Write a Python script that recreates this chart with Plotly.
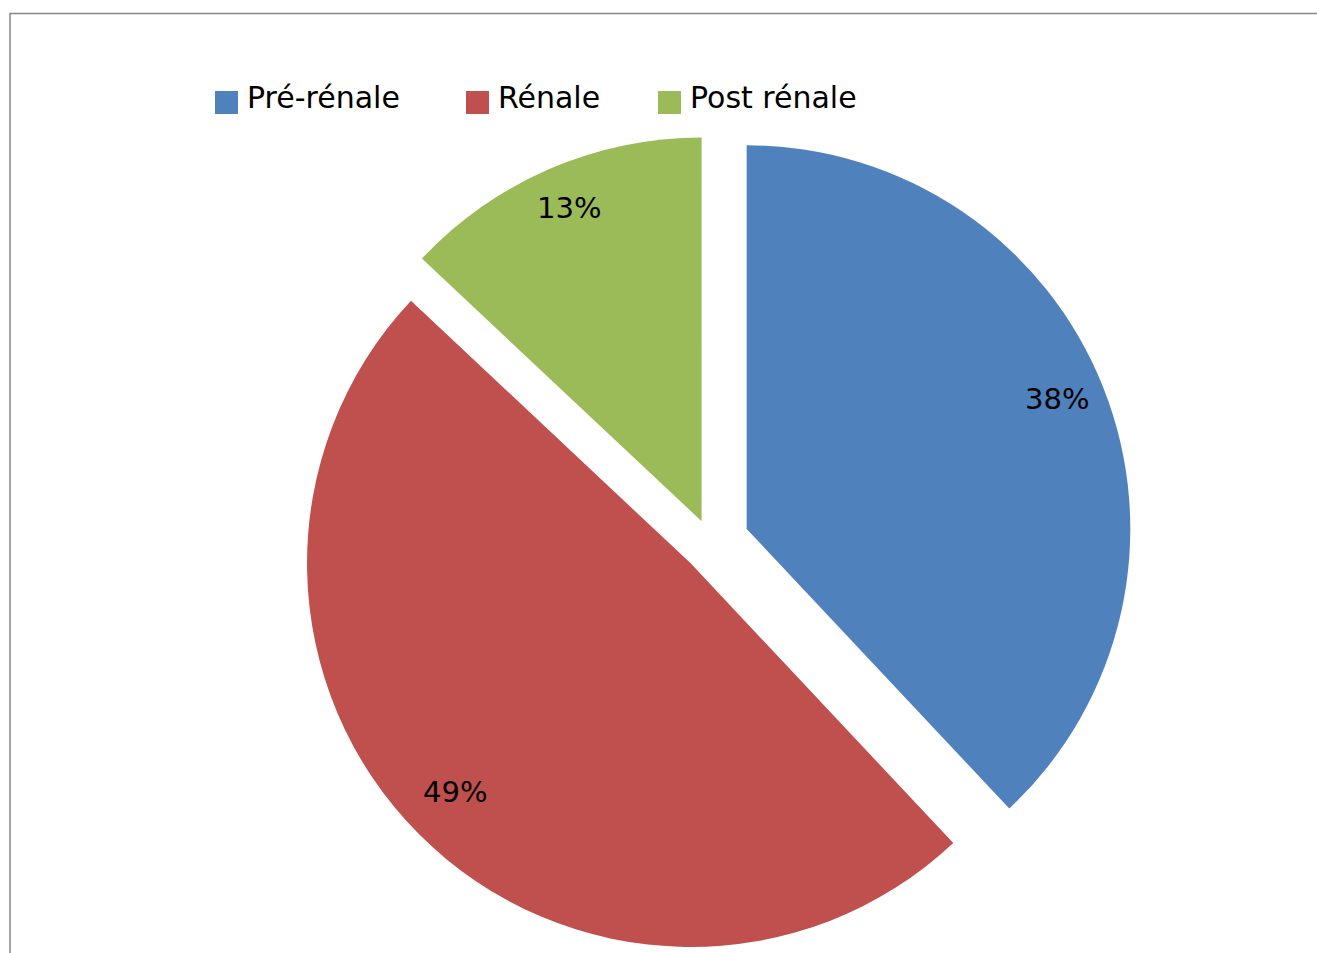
import math
import plotly.graph_objects as go

# Répartition des insuffisances rénales aiguës par mécanisme
categories = ["Pré-rénale", "Rénale", "Post rénale"]
values = [38, 49, 13]
colors = ["#4F81BD", "#C0504D", "#9BBB59"]
pulls = [0.100, 0.075, 0.062]

FONT = "DejaVu Sans"
W, H = 1317, 965
M_L, M_T, M_R, M_B = 289, 121, 184, 0
PW = W - M_L - M_R
PH = H - M_T - M_B


def px_x(x):
    return (x - M_L) / PW


def px_y(y):
    return 1 - (y - M_T) / PH


fig = go.Figure(
    go.Pie(
        labels=categories,
        values=values,
        sort=False,
        direction="clockwise",
        rotation=0,
        pull=pulls,
        marker=dict(colors=colors, line=dict(width=0)),
        textinfo="none",
        showlegend=False,
        hoverinfo="label+percent",
    )
)

# pie geometry, same rule plotly uses to size the pie
r = min(PW, PH) / 2 / (1 + max(pulls))
cx = M_L + PW / 2
cy = M_T + PH / 2
total = sum(values)

annotations = []
start = 0.0
for cat, v, p in zip(categories, values, pulls):
    span = 360.0 * v / total
    mid = math.radians(start + span / 2)
    ux, uy = math.sin(mid), -math.cos(mid)
    ax = cx + p * r * ux + 0.87 * r * ux
    ay = cy + p * r * uy + 0.87 * r * uy - 7
    annotations.append(dict(
        x=px_x(ax), y=px_y(ay), xref="paper", yref="paper",
        text=f"{round(100 * v / total)}%", showarrow=False,
        xanchor="center", yanchor="middle",
        font=dict(family=FONT, size=29, color="#000000"),
    ))
    start += span

# legend: coloured squares with their category names
legend_x = [215, 466, 658]
shapes = []
for x0, cat, col in zip(legend_x, categories, colors):
    shapes.append(dict(
        type="rect", xref="paper", yref="paper",
        x0=px_x(x0), x1=px_x(x0 + 23), y0=px_y(114), y1=px_y(91),
        fillcolor=col, line=dict(width=0),
    ))
    annotations.append(dict(
        x=px_x(x0 + 30), y=px_y(98), xref="paper", yref="paper",
        text=cat, showarrow=False, xanchor="left", yanchor="middle",
        font=dict(family=FONT, size=30, color="#000000"),
    ))

# chart frame
shapes.append(dict(
    type="rect", xref="paper", yref="paper", layer="below",
    x0=px_x(10), x1=px_x(W + 40), y0=px_y(H + 40), y1=px_y(13.5),
    line=dict(color="#868686", width=1.5), fillcolor="rgba(0,0,0,0)",
))

fig.update_layout(
    width=W,
    height=H,
    margin=dict(l=M_L, r=M_R, t=M_T, b=M_B),
    paper_bgcolor="#FFFFFF",
    plot_bgcolor="#FFFFFF",
    showlegend=False,
    annotations=annotations,
    shapes=shapes,
    font=dict(family=FONT),
)

fig.write_html("out.html")
